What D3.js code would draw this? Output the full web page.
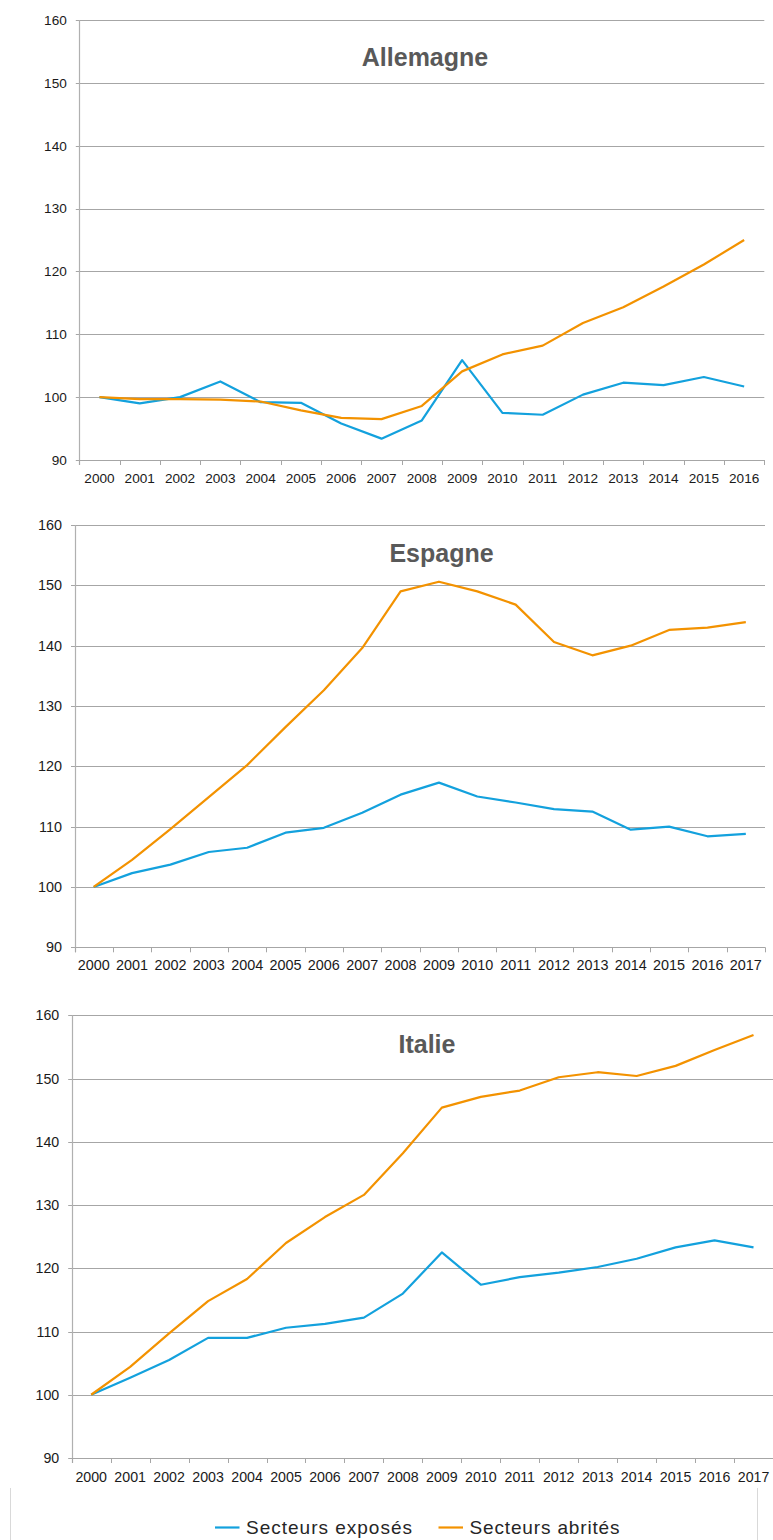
<!DOCTYPE html>
<html>
<head>
<meta charset="utf-8">
<script src="https://cdn.jsdelivr.net/npm/d3@7"></script>
<style>
  html, body { margin: 0; padding: 0; background: #fff; }
  svg { display: block; }
  text { font-family: "Liberation Sans", Arial, sans-serif; }
</style>
</head>
<body>
<svg id="chart" width="773" height="1540"></svg>
<script>
// Indices base 100 en 2000 : secteurs exposés vs secteurs abrités
const yearsDE = d3.range(2000, 2017).map(String);
const yearsES = d3.range(2000, 2018).map(String);
const yearsIT = d3.range(2000, 2018).map(String);

const exposesDE = [100, 99.0, 100.0, 102.5, 99.2, 99.1, 95.8, 93.4, 96.3, 105.9, 97.5, 97.2, 100.4, 102.3, 101.9, 103.2, 101.7];
const abritesDE = [100, 99.7, 99.7, 99.6, 99.3, 97.9, 96.7, 96.5, 98.6, 104.1, 106.8, 108.2, 111.8, 114.3, 117.6, 121.1, 125.0];

const exposesES = [100, 102.3, 103.7, 105.8, 106.5, 109.0, 109.8, 112.3, 115.3, 117.3, 115.0, 114.0, 112.9, 112.5, 109.5, 110.0, 108.4, 108.8];
const abritesES = [100, 104.5, 109.6, 114.9, 120.2, 126.5, 132.6, 139.6, 149.0, 150.6, 149.0, 146.8, 140.6, 138.4, 140.0, 142.6, 143.0, 143.9];

const exposesIT = [100, 102.7, 105.5, 109.0, 109.0, 110.6, 111.2, 112.2, 116.0, 122.5, 117.4, 118.6, 119.3, 120.2, 121.5, 123.3, 124.4, 123.3];
const abritesIT = [100, 104.4, 109.7, 114.8, 118.3, 124.0, 128.1, 131.6, 138.2, 145.4, 147.1, 148.1, 150.2, 151.0, 150.4, 152.0, 154.5, 156.9];

const yTicks = [90, 100, 110, 120, 130, 140, 150, 160];
const seriesNames = ["Secteurs exposés", "Secteurs abrités"];
const seriesColors = ["#13a1dd", "#f39200"];

const panels = [
  { title: "Allemagne", years: yearsDE, series: [exposesDE, abritesDE],
    left: 79.3, right: 764.3, top: 20, bottom: 460,
    titleX: 425, titleY: 66, font: 13.6, xLabelY: 482.5 },
  { title: "Espagne", years: yearsES, series: [exposesES, abritesES],
    left: 74.5, right: 765, top: 525, bottom: 947.3,
    titleX: 441.5, titleY: 562, font: 14.4, xLabelY: 970 },
  { title: "Italie", years: yearsIT, series: [exposesIT, abritesIT],
    left: 71.7, right: 773, top: 1015.3, bottom: 1458,
    titleX: 427, titleY: 1053, font: 14.2, xLabelY: 1481.5 }
];

const svg = d3.select("#chart");

panels.forEach(p => {
  const g = svg.append("g");
  const x = d3.scaleBand().domain(p.years).range([p.left, p.right]).padding(0);
  const y = d3.scaleLinear().domain([90, 160]).range([p.bottom, p.top]);
  const bw = x.bandwidth();

  // horizontal gridlines
  g.append("g")
    .selectAll("line")
    .data(yTicks)
    .join("line")
    .attr("x1", p.left - 3.5)
    .attr("x2", p.right)
    .attr("y1", d => Math.round(y(d)) + 0.5)
    .attr("y2", d => Math.round(y(d)) + 0.5)
    .attr("stroke", "#a6a6a6")
    .attr("stroke-width", 1);

  // y axis line
  g.append("line")
    .attr("x1", Math.round(p.left) + 0.5).attr("x2", Math.round(p.left) + 0.5)
    .attr("y1", p.top).attr("y2", p.bottom + 5)
    .attr("stroke", "#b0b0b0").attr("stroke-width", 1.2);

  // y tick labels
  const yAxis = d3.axisLeft(y).tickValues(yTicks).tickSize(0).tickPadding(12.5);
  const ya = g.append("g").attr("transform", `translate(${p.left},0)`).call(yAxis);
  ya.select(".domain").remove();
  ya.selectAll("text")
    .attr("font-size", p.font)
    .attr("fill", "#1a1a1a")
    .attr("font-family", "Liberation Sans, Arial, sans-serif");

  // x tick marks at category boundaries
  const edges = p.years.map(d => x(d)).concat([p.right]);
  g.append("g")
    .selectAll("line")
    .data(edges)
    .join("line")
    .attr("x1", d => Math.round(d) + 0.5)
    .attr("x2", d => Math.round(d) + 0.5)
    .attr("y1", p.bottom)
    .attr("y2", p.bottom + 5)
    .attr("stroke", "#a6a6a6")
    .attr("stroke-width", 1);

  // x labels
  const xAxis = d3.axisBottom(x).tickSize(0).tickPadding(0);
  const xa = g.append("g").attr("transform", `translate(0,${p.bottom})`).call(xAxis);
  xa.select(".domain").remove();
  xa.selectAll("text")
    .attr("dy", null)
    .attr("y", p.xLabelY - p.bottom)
    .attr("font-size", p.font)
    .attr("fill", "#1a1a1a")
    .attr("font-family", "Liberation Sans, Arial, sans-serif");

  // title
  g.append("text")
    .attr("x", p.titleX)
    .attr("y", p.titleY)
    .attr("text-anchor", "middle")
    .attr("font-size", 25)
    .attr("font-weight", "bold")
    .attr("fill", "#595959")
    .text(p.title);

  // lines
  const line = d3.line()
    .x((d, i) => x(p.years[i]) + bw / 2)
    .y(d => y(d));

  p.series.forEach((s, i) => {
    g.append("path")
      .datum(s)
      .attr("fill", "none")
      .attr("stroke", seriesColors[i])
      .attr("stroke-width", 2.2)
      .attr("stroke-linejoin", "round")
      .attr("d", line);
  });
});

// legend frame (side edges)
const legend = svg.append("g");
[10.5, 757.5].forEach(xx => {
  legend.append("line")
    .attr("x1", xx).attr("x2", xx)
    .attr("y1", 1488).attr("y2", 1540)
    .attr("stroke", "#d9d9d9").attr("stroke-width", 1);
});

const legendItems = [
  { x: 215, textX: 246, width: 166 },
  { x: 438.5, textX: 469.5, width: 150 }
];
legendItems.forEach((it, i) => {
  legend.append("line")
    .attr("x1", it.x).attr("x2", it.x + 24.5)
    .attr("y1", 1527.5).attr("y2", 1527.5)
    .attr("stroke", seriesColors[i]).attr("stroke-width", 2.2);
  legend.append("text")
    .attr("x", it.textX)
    .attr("y", 1533.5)
    .attr("font-size", 19)
    .attr("fill", "#262626")
    .attr("textLength", it.width)
    .attr("lengthAdjust", "spacing")
    .text(seriesNames[i]);
});
</script>
</body>
</html>
